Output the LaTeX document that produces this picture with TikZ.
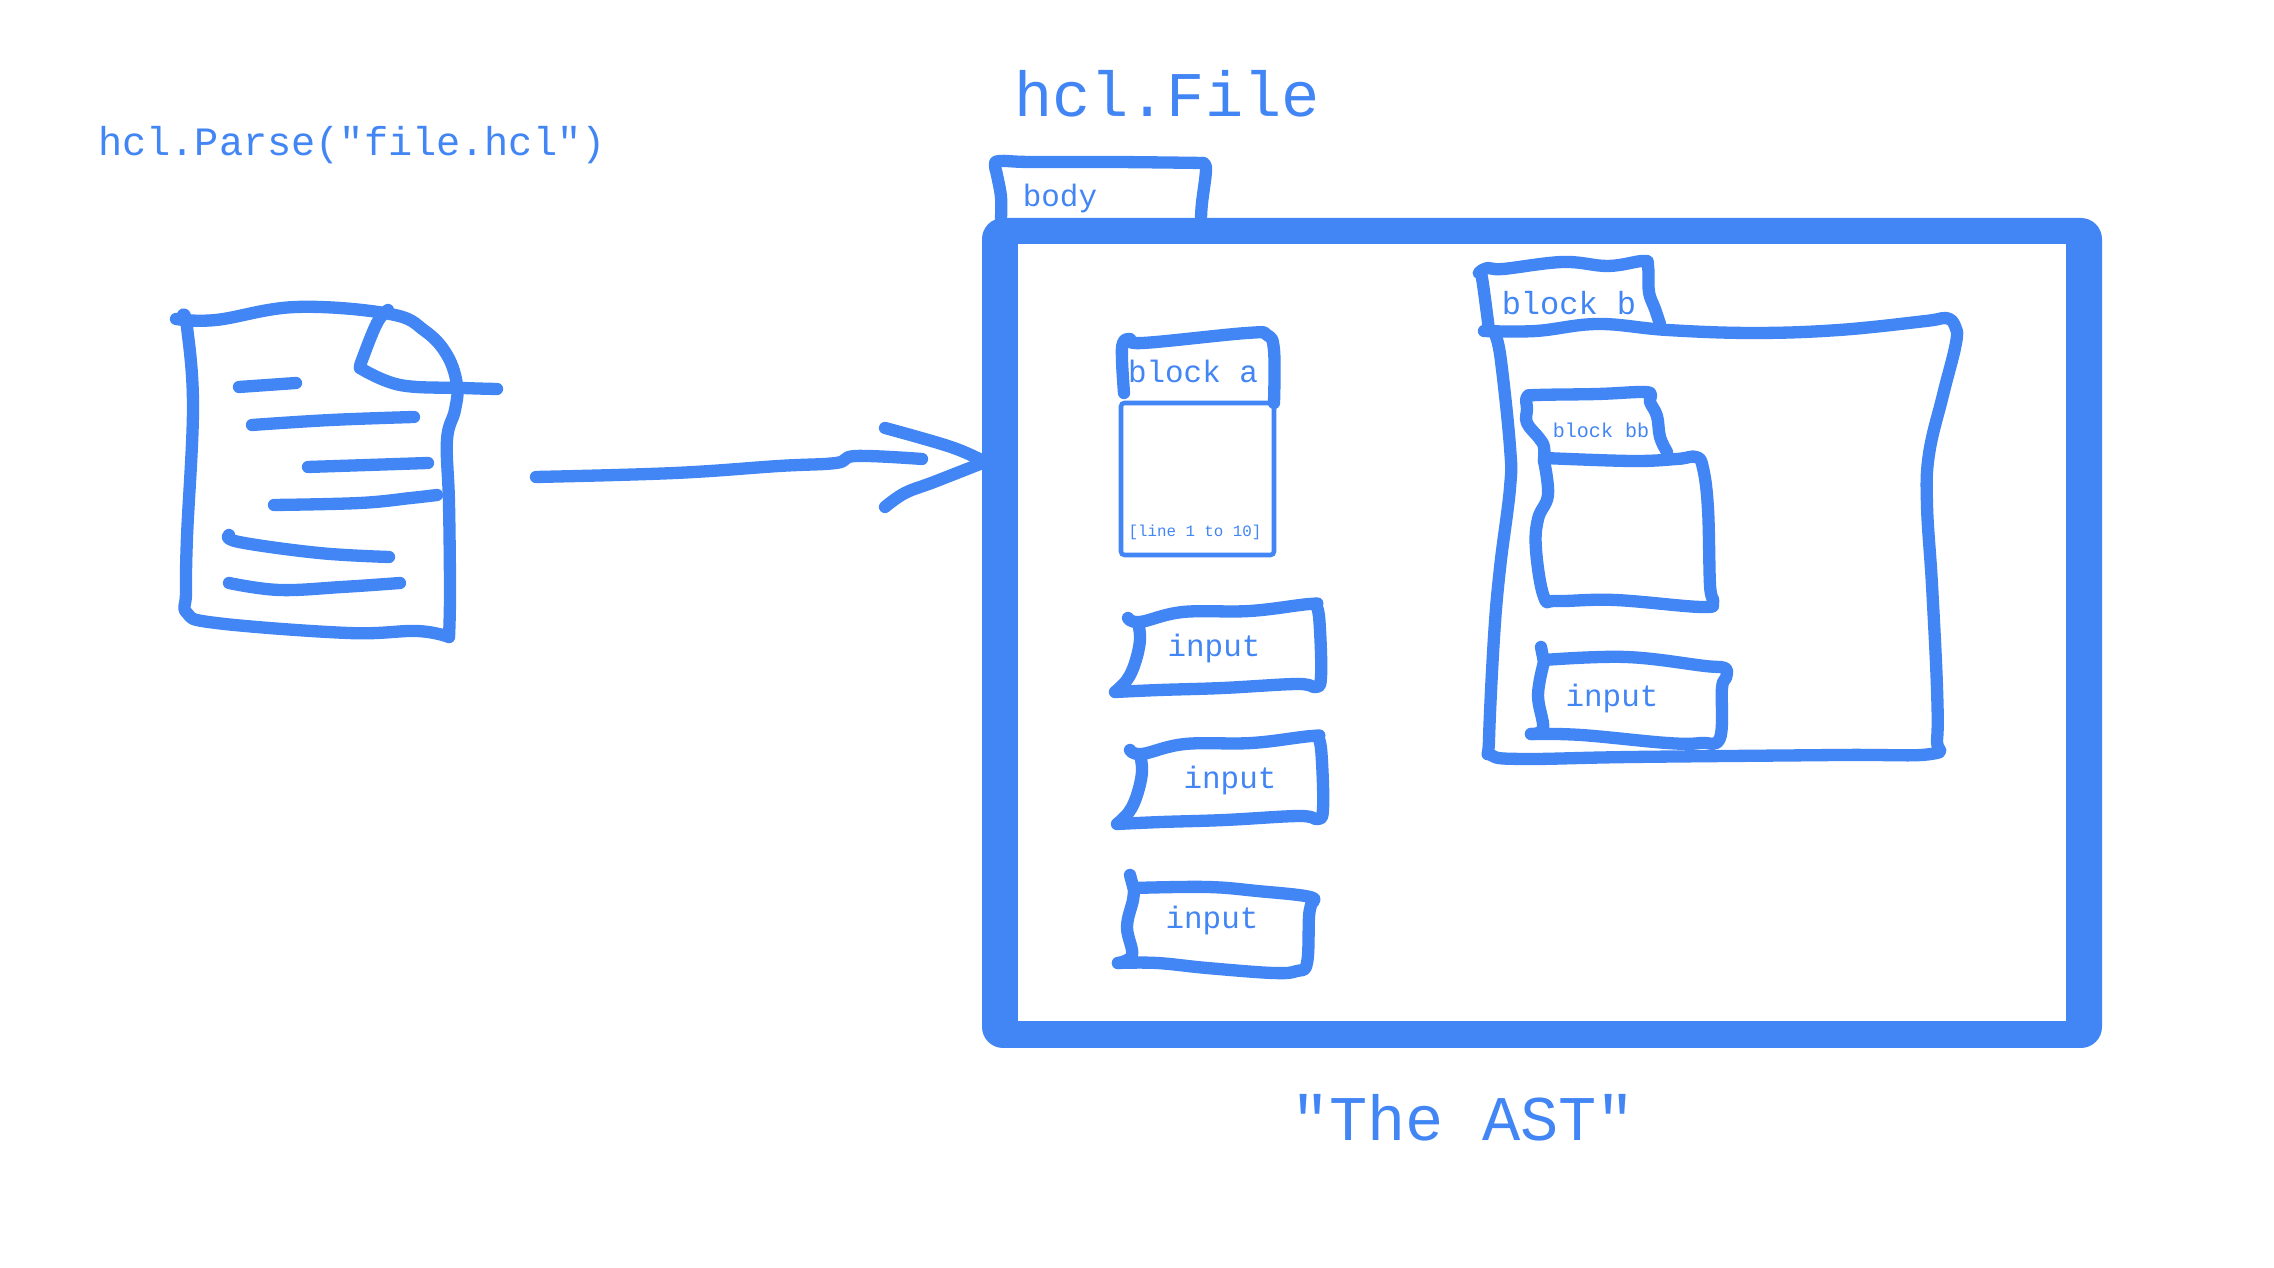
\documentclass[tikz,border=0pt]{standalone}
\usepackage{fontspec}
\setmonofont{Liberation Mono}
\definecolor{astblue}{HTML}{4285F4}
\tikzset{
  sketch/.style={draw=astblue,line width=3.5pt,line cap=round,line join=round,smooth,tension=0.65},
  label/.style={inner sep=0pt,anchor=base,text=astblue,font=\ttfamily\fontsize{8.8}{10}\selectfont},
  widelabel/.style={label,font=\ttfamily\fontsize{9.1}{10}\selectfont},
  smalllabel/.style={label,font=\ttfamily\fontsize{5.7}{7}\selectfont},
  tinylabel/.style={label,font=\ttfamily\fontsize{4.5}{6}\selectfont},
  midlabel/.style={label,font=\ttfamily\fontsize{11.45}{13}\selectfont},
  biglabel/.style={label,font=\ttfamily\fontsize{18.1}{20}\selectfont}
}
\newcommand{\inputoutline}{
  plot coordinates {(1128,618) (1140,622) (1183,612) (1250,611) (1310,604) (1317,607) (1320,630) (1321,677) (1316,687) (1297,684) (1223,688) (1160,690) (1115,692)}
  plot coordinates {(1115,692) (1127,680) (1135,663) (1140,640) (1138,622)}
}
\begin{document}
\begin{tikzpicture}[x=0.01cm,y=-0.01cm]
  \useasboundingbox (0,0) rectangle (2274,1268);

  \fill[astblue,rounded corners=6] (982,218) rectangle (2102,1048);
  \fill[white] (1018,244) rectangle (2066,1021);

  \node[midlabel] (parselabel) at (352,156) {hcl.Parse("file.hcl")};
  \node[biglabel] (filelabel) at (1167,117) {hcl.File};
  \node[biglabel] (astlabel) at (1463,1141) {"The AST"};
  \node[label] (bodylabel) at (1060,207) {body};
  \node[label] (blockalabel) at (1193,383) {block a};
  \node[tinylabel] (rangelabel) at (1195,537) {[line 1 to 10]};
  \node[label] (inputa) at (1214,657) {input};
  \node[label] (inputb) at (1230,789) {input};
  \node[label] (inputc) at (1212,929) {input};
  \node[widelabel] (blockblabel) at (1569,315) {block b};
  \node[smalllabel] (blockbblabel) at (1601,438) {block bb};
  \node[label] (inputd) at (1612,707) {input};

  \draw[sketch] plot coordinates {(176,319) (216,320) (296,307) (390,314) (425,331) (447,355) (457,385) (455,410) (447,440) (449,503) (450,593) (449,637)};
  \draw[sketch] plot coordinates {(449,637) (417,631) (348,633) (216,623) (187,613) (186,593) (187,537) (193,407) (187,327) (183,315)};
  \draw[sketch] plot coordinates {(388,310) (377,323) (362,360) (360,368)};
  \draw[sketch] plot coordinates {(360,368) (400,385) (463,388) (497,389)};
  \draw[sketch] plot coordinates {(239,387) (296,383)};
  \draw[sketch] plot coordinates {(252,425) (331,420) (414,417)};
  \draw[sketch] plot coordinates {(308,467) (428,463)};
  \draw[sketch] plot coordinates {(274,505) (360,503) (411,498) (437,495)};
  \draw[sketch] plot coordinates {(229,535) (239,542) (319,553) (389,557)};
  \draw[sketch] plot coordinates {(229,583) (279,590) (342,587) (400,583)};

  \draw[sketch] plot coordinates {(536,477) (675,473) (779,466) (836,463) (856,456) (922,459)};
  \draw[sketch] plot coordinates {(885,428) (951,447) (985,462)};
  \draw[sketch] plot coordinates {(985,462) (934,482) (905,493) (885,507)};

  \draw[sketch] plot coordinates {(1201,218) (1202,203) (1206,170) (1203,163)};
  \draw[sketch] plot coordinates {(1001,218) (1001,197) (997,175) (995,165) (1000,161) (1030,162) (1113,162) (1203,163)};

  \draw[sketch] plot coordinates {(1124,393) (1122,360) (1123,343) (1130,339) (1143,343) (1247,333) (1267,335) (1274,350) (1274,403)};
  \draw[astblue,line width=1.3pt,rounded corners=1] (1121,403) rectangle (1274,555);

  \draw[sketch] \inputoutline;
  \draw[sketch,shift={(2,132)}] \inputoutline;
  \draw[sketch] plot coordinates {(1130,875) (1134,890)};
  \draw[sketch] plot coordinates {(1134,888) (1207,887) (1257,891) (1310,897) (1311,905) (1309,917) (1307,963) (1297,971) (1273,973) (1207,968) (1157,963) (1118,963)};
  \draw[sketch] plot coordinates {(1118,963) (1132,955) (1127,927) (1133,900) (1134,888)};

  \draw[sketch] plot coordinates {(1489,330) (1482,278) (1479,273) (1488,268) (1503,269) (1563,262) (1608,266) (1643,261) (1648,266) (1649,292) (1655,309) (1660,324)};
  \draw[sketch] plot coordinates {(1484,331) (1536,331) (1598,324) (1667,330) (1753,333) (1839,330) (1926,321) (1946,318) (1955,326) (1956,343) (1943,395) (1929,454) (1927,505) (1932,585) (1937,688) (1937,740) (1931,754) (1839,755) (1632,757) (1522,759) (1491,755) (1489,740) (1494,637) (1500,568) (1510,488) (1510,447) (1501,361) (1496,337)};

  \draw[sketch] plot coordinates {(1544,461) (1544,447) (1539,438) (1527,423) (1527,409) (1527,397) (1538,395) (1598,394) (1643,392) (1651,395) (1650,402) (1657,416) (1660,437) (1667,452)};
  \draw[sketch] plot coordinates {(1544,458) (1632,461) (1677,459) (1696,457) (1703,468) (1708,509) (1710,585) (1713,602) (1701,607) (1615,600) (1557,601) (1544,597) (1536,550) (1538,519) (1548,495) (1544,461)};

  \draw[sketch] plot coordinates {(1541,647) (1544,662)};
  \draw[sketch] plot coordinates {(1544,660) (1626,657) (1705,666) (1725,668) (1726,678) (1722,688) (1720,738) (1701,743) (1667,743) (1581,735) (1531,734)};
  \draw[sketch] plot coordinates {(1531,734) (1543,728) (1538,695) (1544,662)};
\end{tikzpicture}
\end{document}
